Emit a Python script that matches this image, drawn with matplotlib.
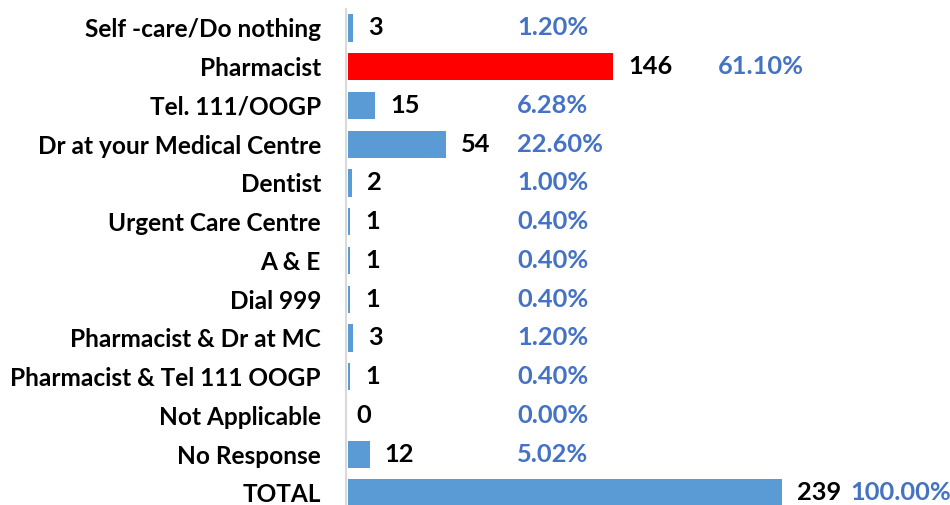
import matplotlib
matplotlib.use("Agg")
import matplotlib.pyplot as plt

categories = ["Self -care/Do nothing", "Pharmacist", "Tel. 111/OOGP", "Dr at your Medical Centre",
              "Dentist", "Urgent Care Centre", "A & E", "Dial 999", "Pharmacist & Dr at MC",
              "Pharmacist & Tel 111 OOGP", "Not Applicable", "No Response", "TOTAL"]
counts = [3, 146, 15, 54, 2, 1, 1, 1, 3, 1, 0, 12, 239]
percents = ["1.20%", "61.10%", "6.28%", "22.60%", "1.00%", "0.40%", "0.40%", "0.40%",
            "1.20%", "0.40%", "0.00%", "5.02%", "100.00%"]
highlight = "Pharmacist"

W, H = 950, 505
fig = plt.figure(figsize=(W / 100, H / 100), dpi=100)
ax_left, ax_top, ax_bottom = 346, 8.6, 505
ax = fig.add_axes([ax_left / W, 0, 1 - ax_left / W, (H - ax_top) / H])

blue = "#5B9BD5"
red = "#FF0000"
pct_col = "#4472C4"
font = "Lato"
fs = 17.6
fs_num = 18.3

ypos = list(range(len(categories)))
colors = [red if c == highlight else blue for c in categories]
ax.barh(ypos, counts, height=0.7, color=colors)

pxu = 1.816  # pixels per unit
xmin = -2 / pxu
ax.set_xlim(xmin, xmin + (W - ax_left) / pxu)
row_px = 38.75
ax.set_ylim(-0.5 + (H - ax_top) / row_px, -0.5)

for y, v, p in zip(ypos, counts, percents):
    tx = v + 15 / pxu if v > 0 else 8 / pxu
    ax.text(tx, y, str(v), va="center", ha="left", fontsize=fs_num, fontweight="bold",
            family=font, color="black")
    if v > 200:
        px = v + 68 / pxu
    elif v > 100:
        px = v + 105 / pxu
    else:
        px = 169 / pxu
    ax.text(px, y, p, va="center", ha="left", fontsize=fs_num, fontweight="bold",
            family=font, color=pct_col)

ax.set_yticks(ypos)
ax.set_yticklabels(categories, fontsize=fs, fontweight="bold", family=font)
ax.tick_params(axis="y", length=0, pad=18)
ax.set_xticks([])
for s in ["top", "right", "bottom"]:
    ax.spines[s].set_visible(False)
ax.spines["left"].set_color("#D9D9D9")
ax.spines["left"].set_linewidth(1.5)

fig.savefig("out.png", dpi=100)
